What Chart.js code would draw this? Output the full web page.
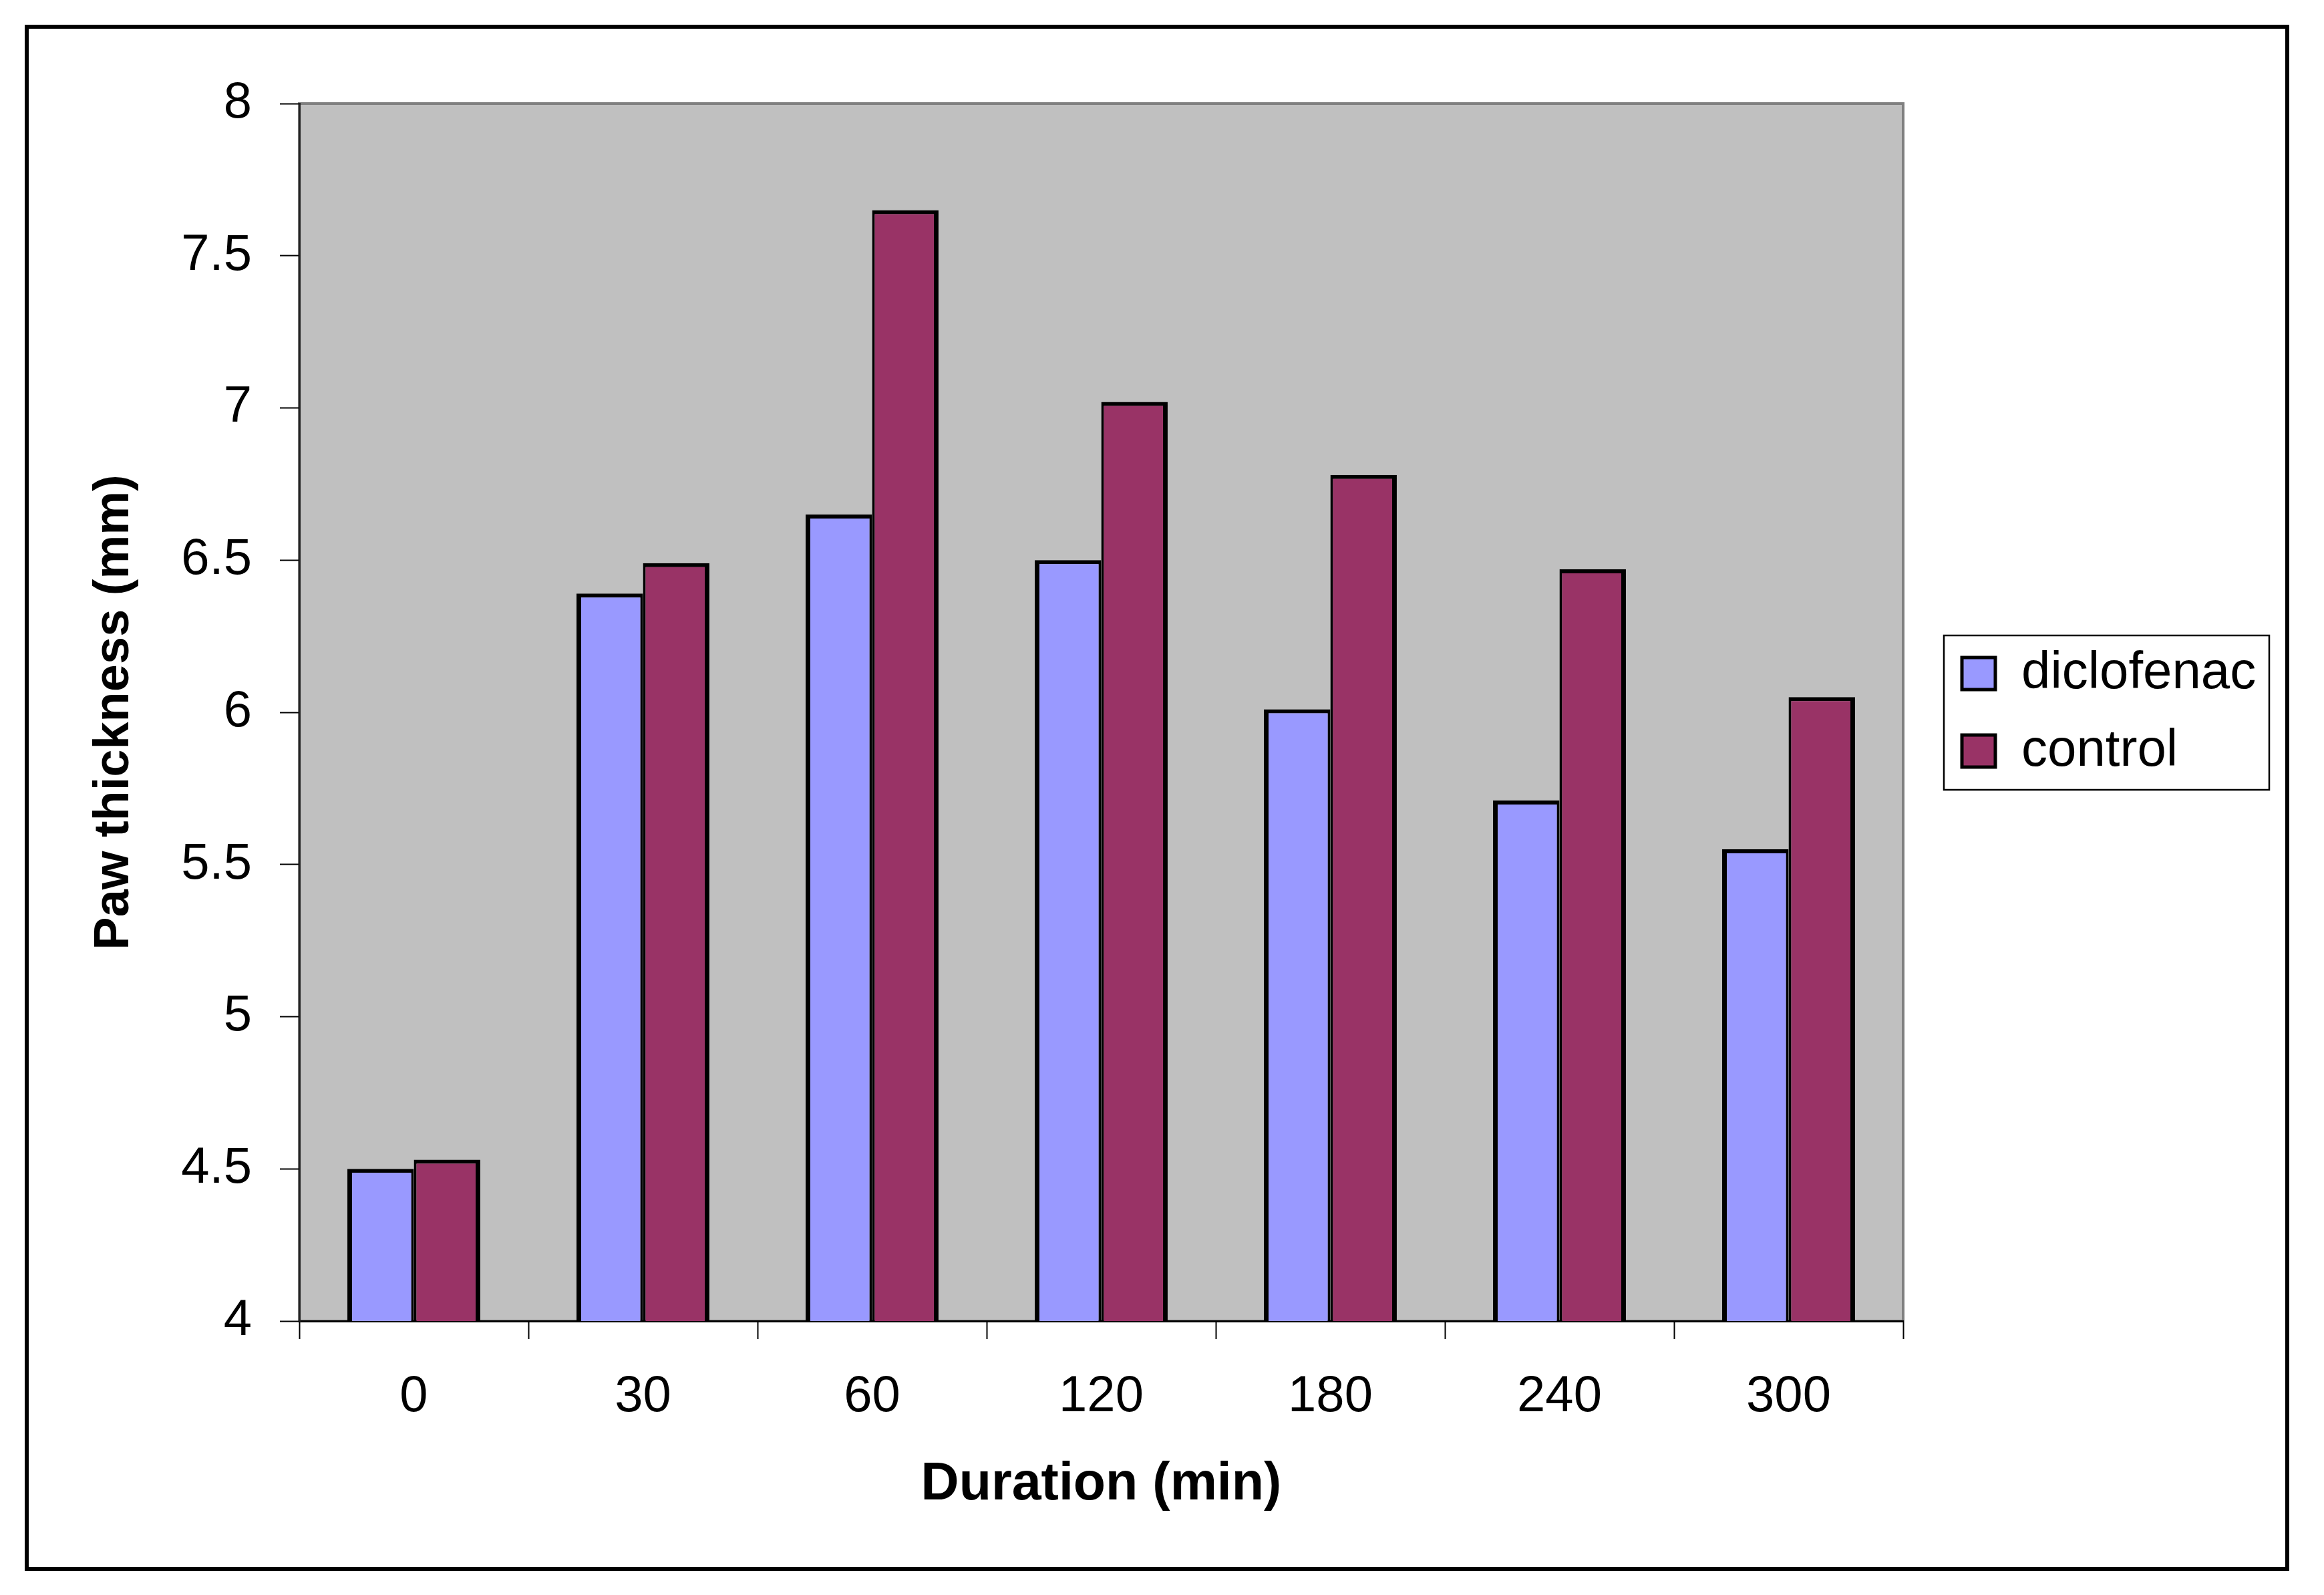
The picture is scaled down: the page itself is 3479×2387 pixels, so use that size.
<!DOCTYPE html>
<html>
<head>
<meta charset="utf-8">
<title>Paw thickness</title>
<script src="https://cdn.jsdelivr.net/npm/chart.js@4.4.0/dist/chart.umd.min.js"></script>
<style>
    html, body { margin: 0; padding: 0; background: #ffffff; }
    canvas { display: block; }
</style>
</head>
<body>
<canvas id="myChart" width="3479" height="2387"></canvas>
<script>
/* 차트 데이터 */
let durations = ['0', '30', '60', '120', '180', '240', '300'];
let diclofenac = [4.50, 6.39, 6.65, 6.50, 6.01, 5.71, 5.55];
let control = [4.53, 6.49, 7.65, 7.02, 6.78, 6.47, 6.05];
let yTicks = [4, 4.5, 5, 5.5, 6, 6.5, 7, 7.5, 8];

let fontFamily = "'Liberation Sans', Arial, sans-serif";

/* 레이아웃 값 */
let plotLeft = 448;
let plotRight = 2849;
let plotTop = 155;
let plotBottom = 1977;
let legendPad = 38;
let legendShift = 50;

/* 플롯 배경 + 외곽 테두리 */
let framePlugin = {
    id: 'frame',
    beforeLayout: function (chart) {
        let lg = chart.legend;
        if (lg && !lg.fixedFit) {
            let fit = lg.fit;
            lg.fit = function () {
                fit.call(this);
                this.width = chart.width - plotRight;
            };
            lg.fixedFit = true;
        }
    },
    afterLayout: function (chart) {
        let lg = chart.legend;
        lg.left += legendShift;
        lg.right += legendShift;
    },
    beforeDraw: function (chart) {
        let ctx = chart.ctx;
        let a = chart.chartArea;
        ctx.save();
        ctx.fillStyle = '#ffffff';
        ctx.fillRect(0, 0, chart.width, chart.height);
        ctx.fillStyle = '#c0c0c0';
        ctx.fillRect(a.left, a.top, a.right - a.left, a.bottom - a.top);
        ctx.strokeStyle = '#808080';
        ctx.lineWidth = 4;
        ctx.strokeRect(a.left, a.top, a.right - a.left, a.bottom - a.top);
        ctx.restore();
    },
    afterDraw: function (chart) {
        let ctx = chart.ctx;
        let lg = chart.legend;
        let cy = (lg.top + lg.bottom) / 2;
        ctx.save();
        ctx.strokeStyle = '#000000';
        ctx.lineWidth = 2.5;
        ctx.strokeRect(lg.left + legendPad - 27, cy - 115, 487, 231);
        ctx.lineWidth = 6;
        ctx.strokeRect(40, 40, chart.width - 95, chart.height - 79);
        ctx.restore();
    }
};

let ctx = document.getElementById('myChart').getContext('2d');

let myChart = new Chart(ctx, {
    type: 'bar',
    data: {
        labels: durations,
        datasets: [{
            label: 'diclofenac',
            data: diclofenac,
            backgroundColor: '#9999ff',
            borderColor: '#000000',
            borderWidth: {top: 6, left: 7, right: 4, bottom: 3},
            borderSkipped: false
        }, {
            label: 'control',
            data: control,
            backgroundColor: '#993366',
            borderColor: '#000000',
            borderWidth: {top: 6, left: 4, right: 7, bottom: 3},
            borderSkipped: false
        }]
    },
    options: {
        responsive: false,
        devicePixelRatio: 1,
        animation: false,
        layout: {
            padding: {left: 0, top: plotTop, right: 0, bottom: 0}
        },
        datasets: {
            bar: {
                categoryPercentage: 0.58,
                barPercentage: 1.0
            }
        },
        scales: {
            x: {
                afterFit: function (s) { s.height = chartHeight() - plotBottom; },
                grid: {
                    offset: true,
                    drawOnChartArea: false,
                    tickLength: 27,
                    tickWidth: 2,
                    tickColor: '#000000',
                    color: '#000000'
                },
                border: {display: true, color: '#000000', width: 3},
                ticks: {
                    color: '#000000',
                    padding: 41,
                    font: {family: fontFamily, size: 76}
                },
                title: {
                    display: true,
                    text: 'Duration (min)',
                    color: '#000000',
                    padding: {top: 0, bottom: 117},
                    font: {family: fontFamily, size: 79, weight: 'bold'}
                }
            },
            y: {
                min: 4,
                max: 8,
                afterFit: function (s) { s.width = plotLeft; },
                afterBuildTicks: function (s) {
                    s.ticks = yTicks.map(function (v) { return {value: v}; });
                },
                grid: {
                    drawOnChartArea: false,
                    tickLength: 29,
                    tickWidth: 2,
                    tickColor: '#000000',
                    color: '#000000'
                },
                border: {display: true, color: '#202020', width: 3},
                ticks: {
                    color: '#000000',
                    padding: 42,
                    font: {family: fontFamily, size: 76},
                    callback: function (value) { return String(value); }
                },
                title: {
                    display: true,
                    text: 'Paw thickness (mm)',
                    color: '#000000',
                    padding: {top: 127, bottom: 0},
                    font: {family: fontFamily, size: 74, weight: 'bold'}
                }
            }
        },
        plugins: {
            legend: {
                display: true,
                position: 'right',
                fullSize: false,
                labels: {
                    color: '#000000',
                    boxWidth: 50,
                    boxHeight: 48,
                    padding: legendPad,
                    font: {family: fontFamily, size: 78},
                    generateLabels: function (chart) {
                        let items = Chart.defaults.plugins.legend.labels.generateLabels(chart);
                        items.forEach(function (it) { it.lineWidth = 5; });
                        return items;
                    }
                }
            },
            tooltip: {enabled: false}
        }
    },
    plugins: [framePlugin]
});

function chartHeight() {
    return 2387;
}
</script>
</body>
</html>
